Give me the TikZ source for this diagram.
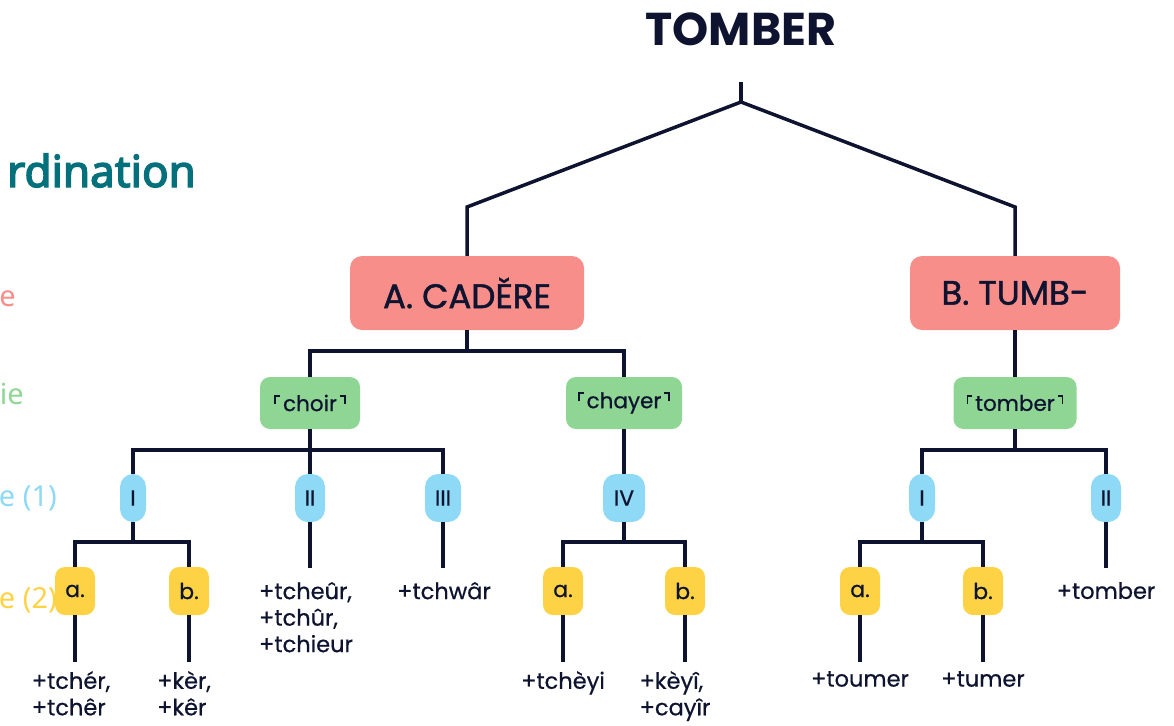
\documentclass[tikz,border=0pt]{standalone}
\usepackage{fontspec}
\setmainfont{Poppins}
\newfontfamily\poppinsmid{Poppins}[FakeBold=1.4]
\newfontfamily\poppinsbook{Poppins}[FakeBold=0.6]
\newfontfamily\notosans{Noto Sans}
\newfontfamily\notosansheavy{Noto Sans}[FakeBold=3.2]
\definecolor{ink}{HTML}{0E1430}
\definecolor{salmon}{HTML}{F78E8A}
\definecolor{leafgreen}{HTML}{8FD694}
\definecolor{skyblue}{HTML}{8DD9F6}
\definecolor{sun}{HTML}{FDD244}
\definecolor{teal}{HTML}{03707B}
% raised corner brackets around a gloss
\newcommand\lcorner{\rlap{\rule[0.32em]{0.075em}{0.42em}}\rule[0.665em]{0.26em}{0.075em}\hspace{0.14em}}
\newcommand\rcorner{\hspace{0.14em}\rule[0.665em]{0.26em}{0.075em}\llap{\rule[0.32em]{0.075em}{0.42em}}}
\tikzset{
  link/.style={draw=ink, line width=3.5pt},
  family/.style={fill=salmon, rounded corners=12pt, minimum width=#1, minimum height=74pt,
    inner sep=0pt, text=ink, font=\poppinsmid\fontsize{34}{38}\selectfont},
  gloss/.style={fill=leafgreen, rounded corners=10pt, minimum width=#1, minimum height=52pt,
    inner sep=0pt, text=ink, font=\poppinsbook\fontsize{21.5}{25}\selectfont},
  pill/.style={fill=skyblue, rounded corners=13pt, minimum width=#1, minimum height=48pt,
    inner sep=0pt, text=ink, font=\poppinsbook\fontsize{22}{25}\selectfont},
  sub/.style={fill=sun, rounded corners=10pt, minimum width=40pt, minimum height=48pt,
    inner sep=0pt, text=ink, font=\poppinsbook\fontsize{22}{25}\selectfont},
  form/.style={anchor=north, align=left, inner xsep=0pt, inner ysep=#1, text=ink,
    font=\poppinsbook\fontsize{22.5}{26.5}\selectfont},
  form/.default=14pt,
  legend/.style={anchor=base east, inner sep=0pt, font=\notosans\fontsize{29}{34}\selectfont},
}
\begin{document}
\begin{tikzpicture}[x=1pt, y=-1pt]
\useasboundingbox (0,0) rectangle (1174,725);
\clip (0,0) rectangle (1174,725);

% legend column
\node[legend, text=teal, font=\notosansheavy\fontsize{44}{50}\selectfont] (lgA) at (196,187) {rdination};
\node[legend, text=salmon] (lgB) at (16,306) {e};
\node[legend, text=leafgreen] (lgC) at (24,404) {ie};
\node[legend, text=skyblue] (lgD) at (57,506) {e (1)};
\node[legend, text=sun] (lgE) at (57,608) {e (2)};

% title and root fork
\node[text=ink, font=\bfseries\fontsize{46}{52}\selectfont] (title) at (741,29) {TOMBER};
\coordinate (stem) at (741,82);
\coordinate (fork) at (741,102);
\coordinate (kA) at (467,207);
\coordinate (kB) at (1015,207);

% families
\node[family=234pt] (A) at (467,293) {A. CADĚRE};
\node[family=210pt] (B) at (1015,293) {B. TUMB-};

% glosses
\node[gloss=100pt] (choir) at (310,403) {\lcorner choir\rcorner};
\node[gloss=116pt] (chayer) at (624,403) {\lcorner chayer\rcorner};
\node[gloss=123pt] (tomb) at (1015,403) {\lcorner tomber\rcorner};

% first-level types
\node[pill=26pt] (p1) at (133,498) {I};
\node[pill=30pt] (p2) at (310,498) {II};
\node[pill=36pt] (p3) at (443,498) {III};
\node[pill=42pt] (p4) at (624,498) {IV};
\node[pill=26pt] (q1) at (922,498) {I};
\node[pill=30pt] (q2) at (1106,498) {II};

% second-level types
\node[sub] (s1a) at (75,591) {a.};
\node[sub] (s1b) at (189,591) {b.};
\node[sub] (s4a) at (563,591) {a.};
\node[sub] (s4b) at (685,591) {b.};
\node[sub] (t1a) at (860,591) {a.};
\node[sub] (t1b) at (983,591) {b.};

% attested forms
\node[form=9pt] (f1a) at (71,662) {+tchér,\\+tchêr};
\node[form=9pt] (f1b) at (184,662) {+kèr,\\+kêr};
\node[form] (f2) at (306,568) {+tcheûr,\\+tchûr,\\+tchieur};
\node[form] (f3) at (444,568) {+tchwâr};
\node[form=9pt] (f4a) at (563,662) {+tchèyi};
\node[form=9pt] (f4b) at (675,662) {+kèyî,\\+cayîr};
\node[form=9pt] (g1a) at (860,662) {+toumer};
\node[form=9pt] (g1b) at (983,662) {+tumer};
\node[form] (g2) at (1106,568) {+tomber};

% junction points of the elbow connectors
\coordinate (jA) at (467,351);
\coordinate (jC) at (310,450);
\coordinate (jT) at (1015,450);
\coordinate (jP1) at (133,542);
\coordinate (jP4) at (624,542);
\coordinate (jQ1) at (922,542);

% connectors
\draw[link] (stem) -- (fork);
\draw[link, line join=miter] (A.north) -- (kA) -- (fork) -- (kB) -- (B.north);
\draw[link] (A.south) -- (jA);
\draw[link] (choir.north) |- (jA) -| (chayer.north);
\draw[link] (B.south) -- (tomb.north);
\draw[link] (choir.south) -- (jC);
\draw[link] (p1.north) |- (jC) -| (p3.north);
\draw[link] (p2.north) -- (jC);
\draw[link] (chayer.south) -- (p4.north);
\draw[link] (tomb.south) -- (jT);
\draw[link] (q1.north) |- (jT) -| (q2.north);
\draw[link] (p1.south) -- (jP1);
\draw[link] (s1a.north) |- (jP1) -| (s1b.north);
\draw[link] (p4.south) -- (jP4);
\draw[link] (s4a.north) |- (jP4) -| (s4b.north);
\draw[link] (q1.south) -- (jQ1);
\draw[link] (t1a.north) |- (jQ1) -| (t1b.north);
\draw[link] (s1a.south) -- (s1a.south |- f1a.north);
\draw[link] (s1b.south) -- (s1b.south |- f1b.north);
\draw[link] (s4a.south) -- (f4a.north);
\draw[link] (s4b.south) -- (s4b.south |- f4b.north);
\draw[link] (t1a.south) -- (g1a.north);
\draw[link] (t1b.south) -- (g1b.north);
\draw[link] (p2.south) -- (p2.south |- f2.north);
\draw[link] (p3.south) -- (p3.south |- f3.north);
\draw[link] (q2.south) -- (g2.north);
\end{tikzpicture}
\end{document}
